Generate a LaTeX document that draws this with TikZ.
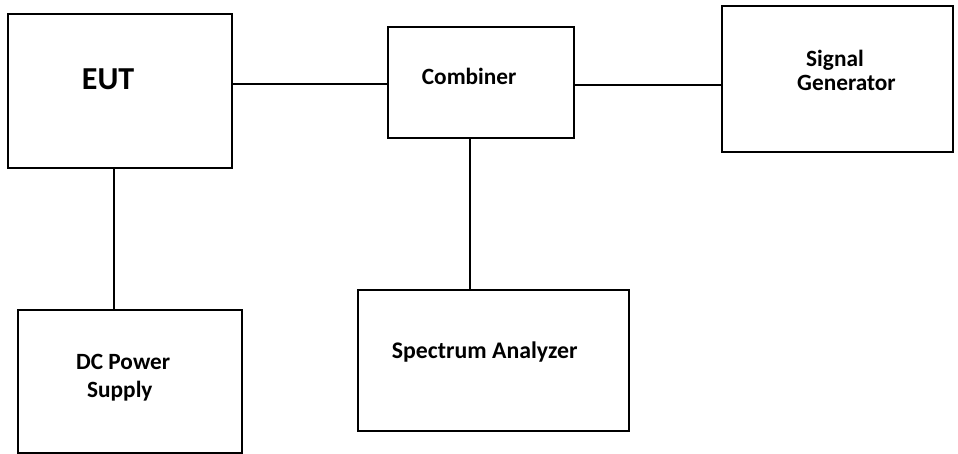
\documentclass[tikz,border=0pt]{standalone}
\usepackage{fontspec}
\setmainfont{Carlito}
\begin{document}
\begin{tikzpicture}[x=1pt,y=-1pt,
  box/.style={draw, line width=1.8pt, inner sep=0pt, rectangle},
  lbl/.style={font=\fontsize{23.3}{28}\selectfont\bfseries, inner sep=0pt, anchor=base west},
  biglbl/.style={font=\fontsize{32}{38}\selectfont\bfseries, inner sep=0pt, anchor=base west},
  wire/.style={line width=1.5pt}]
\useasboundingbox (0,0) rectangle (958,454);
% boxes
\node[box, minimum width=224pt, minimum height=154pt] (eut) at (120,91) {};
\node[box, minimum width=186pt, minimum height=111pt] (comb) at (481,82.5) {};
\node[box, minimum width=231pt, minimum height=146pt] (sg) at (837.5,79) {};
\node[box, minimum width=224pt, minimum height=143pt] (dc) at (130,381.5) {};
\node[box, minimum width=271pt, minimum height=141pt] (sa) at (493.5,360.5) {};
% labels
\node[biglbl] (eutl) at (81.7,90) {EUT};
\node[lbl] (combl) at (421.7,85) {Combiner};
\node[lbl] (sgl1) at (806,67) {Signal};
\node[lbl] (sgl2) at (797,90.5) {Generator};
\node[lbl] (dcl1) at (76,369) {DC Power};
\node[lbl] (dcl2) at (87,397) {Supply};
\node[lbl, font=\fontsize{23.8}{28}\selectfont\bfseries] (sal) at (391.7,358) {Spectrum Analyzer};
% connectors
\draw[wire] ([yshift=-1.5pt]comb.west) -- ([yshift=-1.5pt]comb.west -| eut.east);
\draw[wire] ([yshift=-2.5pt]comb.east) -- ([yshift=-2.5pt]comb.east -| sg.west);
\draw[wire] ([xshift=-6pt]eut.south) -- ([xshift=-6pt]eut.south |- dc.north);
\draw[wire] ([xshift=-11pt]comb.south) -- ([xshift=-11pt]comb.south |- sa.north);
\end{tikzpicture}
\end{document}
